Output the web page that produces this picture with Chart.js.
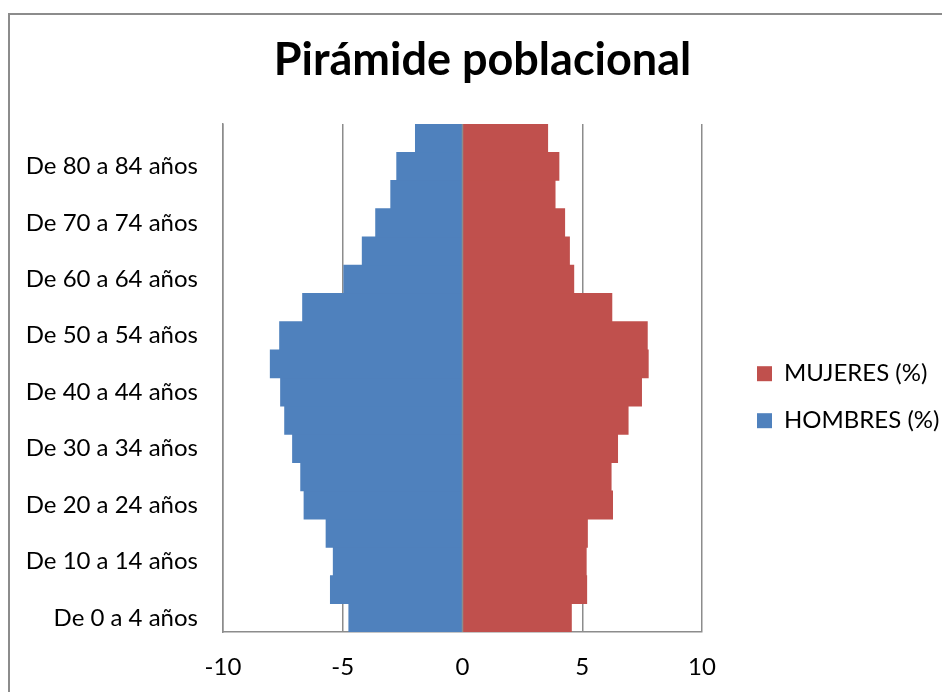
<!DOCTYPE html>
<html lang="es">
<head>
  <meta charset="UTF-8" />
  <title>Pirámide poblacional</title>
  <script src="https://cdn.jsdelivr.net/npm/chart.js"></script>
  <style>
    html, body { margin: 0; padding: 0; background: #fff; overflow: hidden; }
    #frame { position: absolute; left: 8px; top: 13px; width: 1000px; height: 1000px; border: 2px solid #8c8c8c; }
    #wrap { position: absolute; left: 0; top: 0; width: 942px; height: 692px; }
  </style>
</head>
<body>
  <div id="frame"></div>
  <div id="wrap"><canvas id="pyramid"></canvas></div>

  <script>
    // age groups, bottom to top
    const ageGroups = [
      "De 0 a 4 años", "De 5 a 9 años", "De 10 a 14 años", "De 15 a 19 años",
      "De 20 a 24 años", "De 25 a 29 años", "De 30 a 34 años", "De 35 a 39 años",
      "De 40 a 44 años", "De 45 a 49 años", "De 50 a 54 años", "De 55 a 59 años",
      "De 60 a 64 años", "De 65 a 69 años", "De 70 a 74 años", "De 75 a 79 años",
      "De 80 a 84 años", "De 85 y más años"
    ];
    const mujeres = [4.55, 5.19, 5.17, 5.22, 6.27, 6.21, 6.48, 6.92, 7.48, 7.76, 7.72, 6.24, 4.65, 4.47, 4.27, 3.87, 4.03, 3.56];
    const hombres = [-4.75, -5.52, -5.40, -5.70, -6.62, -6.76, -7.10, -7.43, -7.60, -8.03, -7.64, -6.68, -4.96, -4.19, -3.63, -3.00, -2.75, -1.97];
    const xMin = -10, xMax = 10, xStep = 5;

    const RED = "#C0504D";
    const BLUE = "#4F81BD";
    const GRID = "#8c8c8c";
    const FONT = "Lato";

    // vertical axis line at 0, drawn over the bars
    const zeroLine = {
      id: "zeroLine",
      afterDatasetsDraw(chart) {
        const { ctx, chartArea, scales } = chart;
        const x = scales.x.getPixelForValue(0);
        ctx.save();
        ctx.strokeStyle = GRID;
        ctx.lineWidth = 1.5;
        ctx.beginPath();
        ctx.moveTo(x, chartArea.top);
        ctx.lineTo(x, chartArea.bottom);
        ctx.stroke();
        ctx.restore();
      }
    };

    new Chart(document.getElementById("pyramid"), {
      type: "bar",
      data: {
        labels: ageGroups,
        datasets: [
          { label: "MUJERES (%)", data: mujeres, backgroundColor: RED, borderWidth: 0 },
          { label: "HOMBRES (%)", data: hombres, backgroundColor: BLUE, borderWidth: 0 }
        ]
      },
      options: {
        indexAxis: "y",
        responsive: true,
        maintainAspectRatio: false,
        animation: false,
        barPercentage: 1,
        categoryPercentage: 1,
        layout: { padding: { left: 23, right: 0, bottom: 12 } },
        plugins: {
          title: {
            display: true,
            text: "Pirámide poblacional",
            color: "#000",
            font: { family: FONT, size: 45, weight: "bold" },
            padding: { top: 33, bottom: 37 }
          },
          legend: {
            position: "right",
            fullSize: false,
            maxWidth: 208,
            title: { display: true, text: "", padding: { top: 24, bottom: 0 } },
            labels: {
              boxWidth: 15,
              boxHeight: 15,
              padding: 23,
              color: "#000",
              font: { family: FONT, size: 24 }
            }
          },
          tooltip: { enabled: false }
        },
        scales: {
          x: {
            stacked: true,
            min: xMin,
            max: xMax,
            afterFit(s) { s.height = 48; },
            ticks: {
              stepSize: xStep,
              color: "#000",
              padding: 21,
              font: { family: FONT, size: 24 }
            },
            grid: { color: GRID, lineWidth: 1.5, drawTicks: false },
            border: { display: true, color: GRID, width: 1.5 }
          },
          y: {
            stacked: true,
            reverse: true,
            afterFit(s) { s.width = 200; },
            ticks: {
              autoSkip: false,
              color: "#000",
              padding: 25,
              font: { family: FONT, size: 24 },
              callback(val, idx) { return idx % 2 === 0 ? this.getLabelForValue(val) : ""; }
            },
            grid: { display: false, drawTicks: false },
            border: { display: true, color: GRID, width: 1.5 }
          },
          // empty spacer between the plot and the legend
          yGap: {
            axis: "y",
            type: "category",
            position: "right",
            afterFit(s) { s.width = 32; },
            ticks: { display: false },
            grid: { display: false, drawTicks: false },
            border: { display: false }
          }
        }
      },
      plugins: [zeroLine]
    });
  </script>
</body>
</html>
